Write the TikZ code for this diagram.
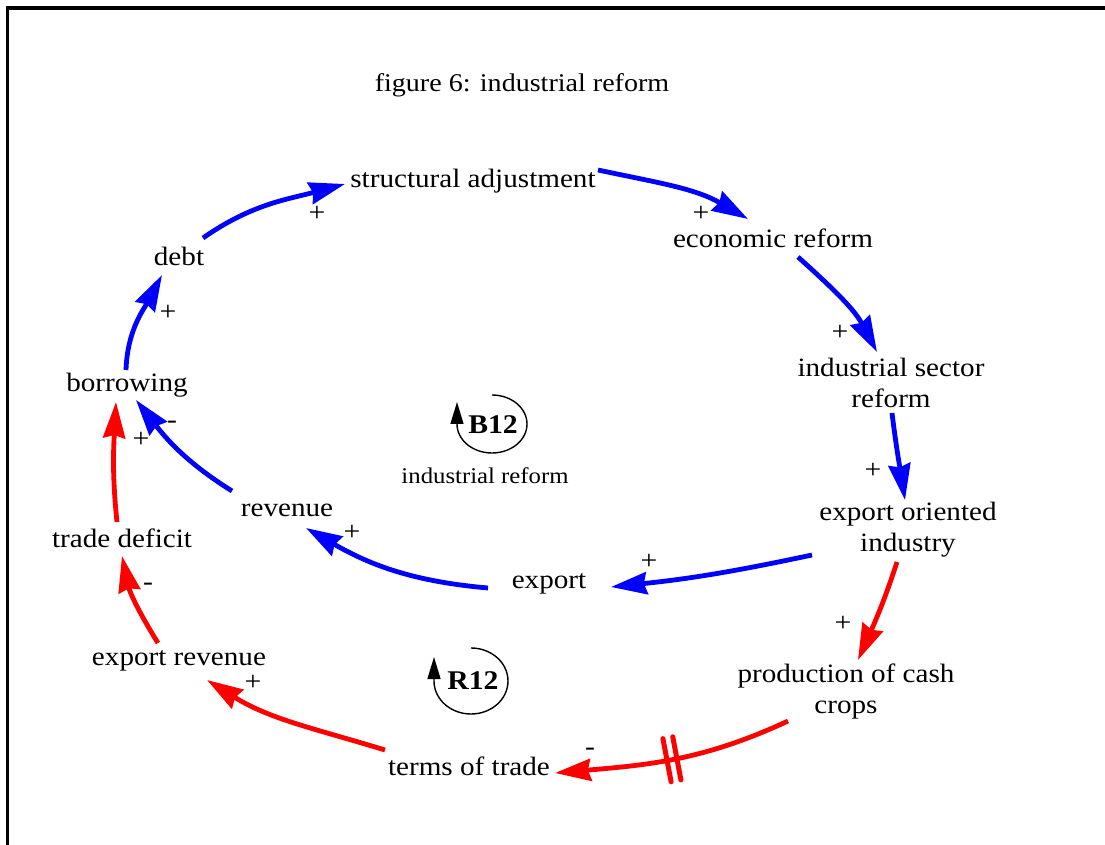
\documentclass[tikz,border=0pt]{standalone}
\usepackage{fontspec}
\setmainfont{Liberation Serif}[FakeStretch=1.1]
\usetikzlibrary{arrows.meta,calc,decorations.markings}
\begin{document}
\begin{tikzpicture}[x=1pt,y=1pt,
  every node/.style={font=\fontsize{26.5}{31}\selectfont, inner sep=0pt},
  var/.style={align=center},
  sign/.style={font=\fontsize{27}{29}\selectfont},
  link/.style={line width=4.8pt, -{Stealth[length=36pt,width=22pt,inset=3pt]}},
  pluslink/.style={link, blue},
  redlink/.style={link, red},
  loopmark/.style={line width=1.4pt, black, -{Triangle[length=22pt,width=13pt]}},
  delay/.style={postaction={decorate}, decoration={markings,
    mark=at position #1 with {\draw[-, line width=5pt, line cap=round]
      (-5,-22) -- (-5,22) (5,-22) -- (5,22);}}}
]
\useasboundingbox (0,0) rectangle (1105,844);

% frame
\draw[line width=3.5pt] (7.5,-10) -- (7.5,836) -- (1115,836);

% title
\node[font=\fontsize{25.5}{30}\selectfont] (title) at (522,759) {figure 6: industrial reform};

% variables
\node[var] (sa)    at (473,663) {structural adjustment};
\node[var] (er)    at (773,606) {economic reform};
\node[var] (isr)   at (891,461) {industrial sector\\reform};
\node[var] (eoi)   at (908,314) {export oriented\\industry};
\node[var] (exp)   at (549,260) {export};
\node[var] (rev)   at (287,334) {revenue};
\node[var] (bor)   at (127,459) {borrowing};
\node[var] (debt)  at (179,588) {debt};
\node[var] (td)    at (122,306) {trade deficit};
\node[var] (exrev) at (179,183) {export revenue};
\node[var] (tot)   at (469,78)  {terms of trade};
\node[var] (pcc)   at (846,153) {production of cash\\crops};

% balancing loop B12
\draw[loopmark] (492,449) arc[start angle=90,end angle=-180,x radius=35,y radius=29] -- ++(0,22);
\node[font=\fontsize{27}{30}\selectfont\bfseries] (b12) at (493,419) {B12};
\node[font=\fontsize{22.5}{26}\selectfont] (b12name) at (485,368) {industrial reform};

% reinforcing loop R12
\draw[loopmark] (471,196) arc[start angle=90,end angle=-180,x radius=37,y radius=33] -- ++(0,24);
\node[font=\fontsize{27}{30}\selectfont\bfseries] (r12) at (473,163) {R12};

% blue links
\draw[pluslink] ([shift={(24,18)}]debt.center) to[out=35,in=195] ([shift={(-128,-3)}]sa.center);
\draw[pluslink] ([shift={(125,11)}]sa.center) to[out=-12,in=150] ([shift={(-25,19)}]er.center);
\draw[pluslink] ([shift={(25,-19)}]er.center) to[out=-42,in=118] ([shift={(-14,31)}]isr.center);
\draw[pluslink] ([shift={(1,-30)}]isr.center) to[out=-83,in=99] ([shift={(-3,30)}]eoi.center);
\draw[pluslink] ([shift={(-96,-25)}]eoi.center) to[out=192,in=6] ([shift={(62,-3)}]exp.center);
\draw[pluslink] ([shift={(-61,-4)}]exp.center) to[out=175,in=-30] ([shift={(19,-18)}]rev.center);
\draw[pluslink] ([shift={(-55,19)}]rev.center) to[out=148,in=-52] ([shift={(9,-15)}]bor.center);
\draw[pluslink] ([shift={(-1,15)}]bor.center) to[out=88,in=-118] ([shift={(-17,-19)}]debt.center);

% red links
\draw[redlink] ([shift={(-5,16)}]td.center) to[out=96,in=-93] ([shift={(-11,-17)}]bor.center);
\draw[redlink] ([shift={(-21,18)}]exrev.center) to[out=122,in=-78] ([shift={(0,-18)}]td.center);
\draw[redlink] ([shift={(-84,16)}]tot.center) to[out=163,in=-32] ([shift={(28,-19)}]exrev.center);
\draw[redlink, delay=0.51] ([shift={(-58,-30)}]pcc.center) to[out=205,in=5] ([shift={(86,-7)}]tot.center);
\draw[redlink] ([shift={(-11,-32)}]eoi.center) to[out=-108,in=66] ([shift={(12,31)}]pcc.center);

% link polarities
\node[sign] (p1)  at (317,630) {+};
\node[sign] (p2)  at (701,630) {+};
\node[sign] (p3)  at (840,511) {+};
\node[sign] (p4)  at (873,373) {+};
\node[sign] (p5)  at (649,282) {+};
\node[sign] (p6)  at (352,311) {+};
\node[sign] (p7)  at (172,419) {-};
\node[sign] (p8)  at (168,531) {+};
\node[sign] (p9)  at (141,404) {+};
\node[sign] (p10) at (148,257) {-};
\node[sign] (p11) at (253,161) {+};
\node[sign] (p12) at (590,92)  {-};
\node[sign] (p13) at (843,220) {+};
\end{tikzpicture}
\end{document}
